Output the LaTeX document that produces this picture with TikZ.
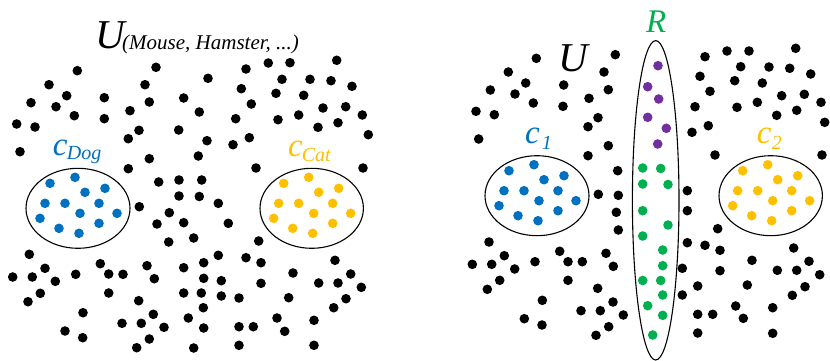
\documentclass[tikz,border=0pt]{standalone}
\usepackage{fontspec}
\setmainfont{Liberation Serif}
\usetikzlibrary{shapes.geometric}
\definecolor{setblue}{HTML}{0070C0}
\definecolor{setyellow}{HTML}{FFC000}
\definecolor{setgreen}{HTML}{00B050}
\definecolor{setpurple}{HTML}{7030A0}
\tikzset{
  dotk/.style={circle, fill=black, minimum size=9.6pt, inner sep=0pt},
  dotb/.style={dotk, fill=setblue},
  doty/.style={dotk, fill=setyellow},
  dotg/.style={dotk, fill=setgreen},
  dotp/.style={dotk, fill=setpurple},
  setellipse/.style={draw, ellipse, line width=1.1pt, inner sep=0pt},
  biglab/.style={inner sep=0pt, anchor=base west, font=\fontsize{41}{41}\selectfont\itshape},
  clab/.style={inner sep=0pt, anchor=base west, font=\fontsize{33}{33}\selectfont\itshape},
  sublab/.style={inner sep=0pt, anchor=base west, font=\fontsize{20}{20}\selectfont\itshape},
}
% dot pattern inside the small sets (offsets from the set centre)
\newcommand\clusterpts{-28/-25,-3/-31,7/-16,27/-20,-33/-5,-13/-5,21/-5,2/5,39/5,-38/10,-19/20,21/15,1/25}

\begin{document}
\begin{tikzpicture}[x=1pt, y=-1pt]
  \useasboundingbox (0,0) rectangle (830,361);

  % left universe
  \foreach \x/\y [count=\i] in {77.3/70.7, 156/67.3, 49/84.7, 145/84.7, 208/78.3, 31/102.7, 66.7/95.7, 56/106.7,
    104.3/97.7, 149.3/102, 183.7/98, 130/110.7, 74.3/115.7, 104.3/118.7, 199.3/112, 16.7/124, 35/127,
    139/130.3, 128.3/138.7, 178.7/130, 207/140.7, 20/151.7, 149.3/158.7, 198.3/156, 128.3/168.7,
    158.7/182, 179/180, 201.7/180, 246/69, 268.3/63, 290/62.7, 336.7/60.3, 282/79.3, 310/79.3,
    331/80.7, 352/86.3, 241.3/88.7, 276/93.3, 303.7/95.3, 251.3/104, 323/108, 345.7/106.7, 362.3/115,
    235.7/118.7, 278/119.7, 298.7/115, 318/127.3, 338/122.7, 368.3/134.7, 249.3/137.7, 233/144.7,
    256/168, 363/168, 139.3/206.7, 179/196, 199.3/196.5, 169.3/212.7, 157/224, 183.7/222.7,
    168.7/242, 193.7/238, 29.3/254.3, 45/268.3, 12.7/277, 32.3/277, 55.3/281.3, 75.7/274.3,
    40.3/293.3, 28/301.7, 100.3/263.7, 108.7/274, 123/274.3, 108.7/293, 147/265.7, 154.3/278.7,
    183.7/267.7, 203.7/262.7, 203.7/278.3, 183.7/293, 201.3/293, 138.7/300.7, 203.3/307.7, 83/312.7,
    153.3/314.3, 188.3/318, 122/323.3, 141.3/323.3, 164/327.3, 203.7/328, 65/331, 82.7/337.7,
    149.3/339, 136.7/347.7, 193.7/348, 218.3/203.3, 228.3/223.3, 258.7/241, 218.3/255.3, 246/257.7,
    261/262.7, 221.3/280.7, 261/283.3, 293/273, 335/260.3, 350.7/274, 318.7/283, 338/283, 361.3/287.3,
    221.3/296, 239/298, 288.7/297.7, 346/298.7, 333.7/307.7, 277/318, 314/320.3, 284.7/331.3,
    239/326.7, 253.3/326.7, 239/345.3, 314/345.3} {
    \node[dotk] (kl\i) at (\x,\y) {};
  }
  \node[setellipse, minimum width=104pt, minimum height=80pt] (cdog) at (78,208.3) {};
  \foreach \dx/\dy [count=\i] in \clusterpts {
    \node[dotb] (dog\i) at ([shift={(\dx,\dy)}]cdog.center) {};
  }
  \node[setellipse, minimum width=103.4pt, minimum height=80pt] (ccat) at (311.7,208.3) {};
  \foreach \dx/\dy [count=\i] in \clusterpts {
    \node[doty] (cat\i) at ([shift={(\dx,\dy)}]ccat.center) {};
  }
  \node[biglab] (ul) at (95,48.3) {U};
  \node[sublab, font=\fontsize{21}{21}\selectfont\itshape] (ulsub) at (122,49.5) {(Mouse, Hamster, ...)};
  \node[clab, text=setblue] (cdoglab) at (52.7,155) {c};
  \node[sublab, text=setblue] (cdogsub) at (66.7,159.3) {Dog};
  \node[clab, text=setyellow] (ccatlab) at (288,156) {c};
  \node[sublab, text=setyellow] (ccatsub) at (301.7,161.7) {Cat};

  % right universe
  \foreach \x/\y [count=\i] in {536.3/58.3, 615.3/54.7, 508.3/72, 525.7/83, 563.7/85, 604/72, 608.3/89.7,
    490.3/90, 515/94, 533.3/103, 563/106.3, 589/98.3, 476/111.3, 494.3/114.7, 598/117.7, 588/126.7,
    478.7/139, 608.3/145.7, 588/155.7, 617.7/170.7, 705/56.7, 727/51, 749/51, 795.7/48.3, 740.7/66.7,
    769/67, 789.7/68.3, 810.7/74, 700/76.3, 734.7/80.7, 762.3/83, 710/91.3, 781.7/95.7, 804.3/94.3,
    821/102.3, 695/106.7, 737/107.3, 757.3/102.3, 796.7/110.3, 776.7/115.3, 824.7/122.3, 708.3/125.7,
    692/132.3, 715/155, 822/155, 598.3/194.3, 618.3/195.3, 616.3/212.3, 618.3/230, 489/242,
    504.3/255.7, 472.3/264.3, 491.7/264.3, 514.7/269, 499.7/280.3, 487.3/289.3, 535/261.7,
    559.7/251.3, 568/261.7, 582.3/261.7, 606/253.3, 613.3/266.3, 568/280.3, 597.7/288.3, 542.3/300.3,
    613/302, 581/310.7, 600.3/310.7, 623.3/315, 524.3/318.7, 542/325, 608.7/326.7, 596/335.3,
    687.3/190.7, 687.3/210.7, 717.7/228.7, 687.3/242.7, 705/245.3, 720/250.3, 682.3/268.3, 720/270.7,
    752/260.3, 793.7/248, 809/261.3, 777.3/270.3, 796.7/270.3, 819.7/274.7, 697.7/286, 747.3/285,
    805/286.7, 682.3/295, 792.3/295.3, 735.7/306, 772.7/307.7, 697.7/314.3, 712.7/314.3, 743.3/318.3,
    697.7/333, 772.7/333.3} {
    \node[dotk] (kr\i) at (\x,\y) {};
  }
  \node[setellipse, minimum width=104pt, minimum height=80pt] (cone) at (537,195.7) {};
  \foreach \dx/\dy [count=\i] in \clusterpts {
    \node[dotb] (one\i) at ([shift={(\dx,\dy)}]cone.center) {};
  }
  \node[setellipse, minimum width=103.4pt, minimum height=80pt] (ctwo) at (770.7,195.7) {};
  \foreach \dx/\dy [count=\i] in \clusterpts {
    \node[doty] (two\i) at ([shift={(\dx,\dy)}]ctwo.center) {};
  }
  \node[setellipse, minimum width=46.6pt, minimum height=319.4pt] (rset) at (655.7,200.3) {};
  \foreach \x/\y [count=\i] in {658/65.7, 647.7/86.7, 658.7/99, 647.7/117.3, 666.3/128.3, 657.7/144} {
    \node[dotp] (rp\i) at (\x,\y) {};
  }
  \foreach \x/\y [count=\i] in {642.7/168, 660.7/168.5, 642.7/184, 668/184.5, 642.7/210.7, 668/225,
    642.7/236, 662.7/250, 662.7/265.7, 642.7/280.5, 660.7/280.5, 662.7/295, 647.7/305.7,
    662.7/315.3, 652.7/335} {
    \node[dotg] (rg\i) at (\x,\y) {};
  }
  \node[biglab] (ur) at (558,72) {U};
  \node[clab, text=setgreen] (rlab) at (646,32.3) {R};
  \node[clab, text=setblue] (conelab) at (525,143.3) {c};
  \node[sublab, text=setblue] (conesub) at (541.7,149) {1};
  \node[clab, text=setyellow] (ctwolab) at (756.7,143) {c};
  \node[sublab, text=setyellow] (ctwosub) at (771.7,149) {2};
\end{tikzpicture}
\end{document}
